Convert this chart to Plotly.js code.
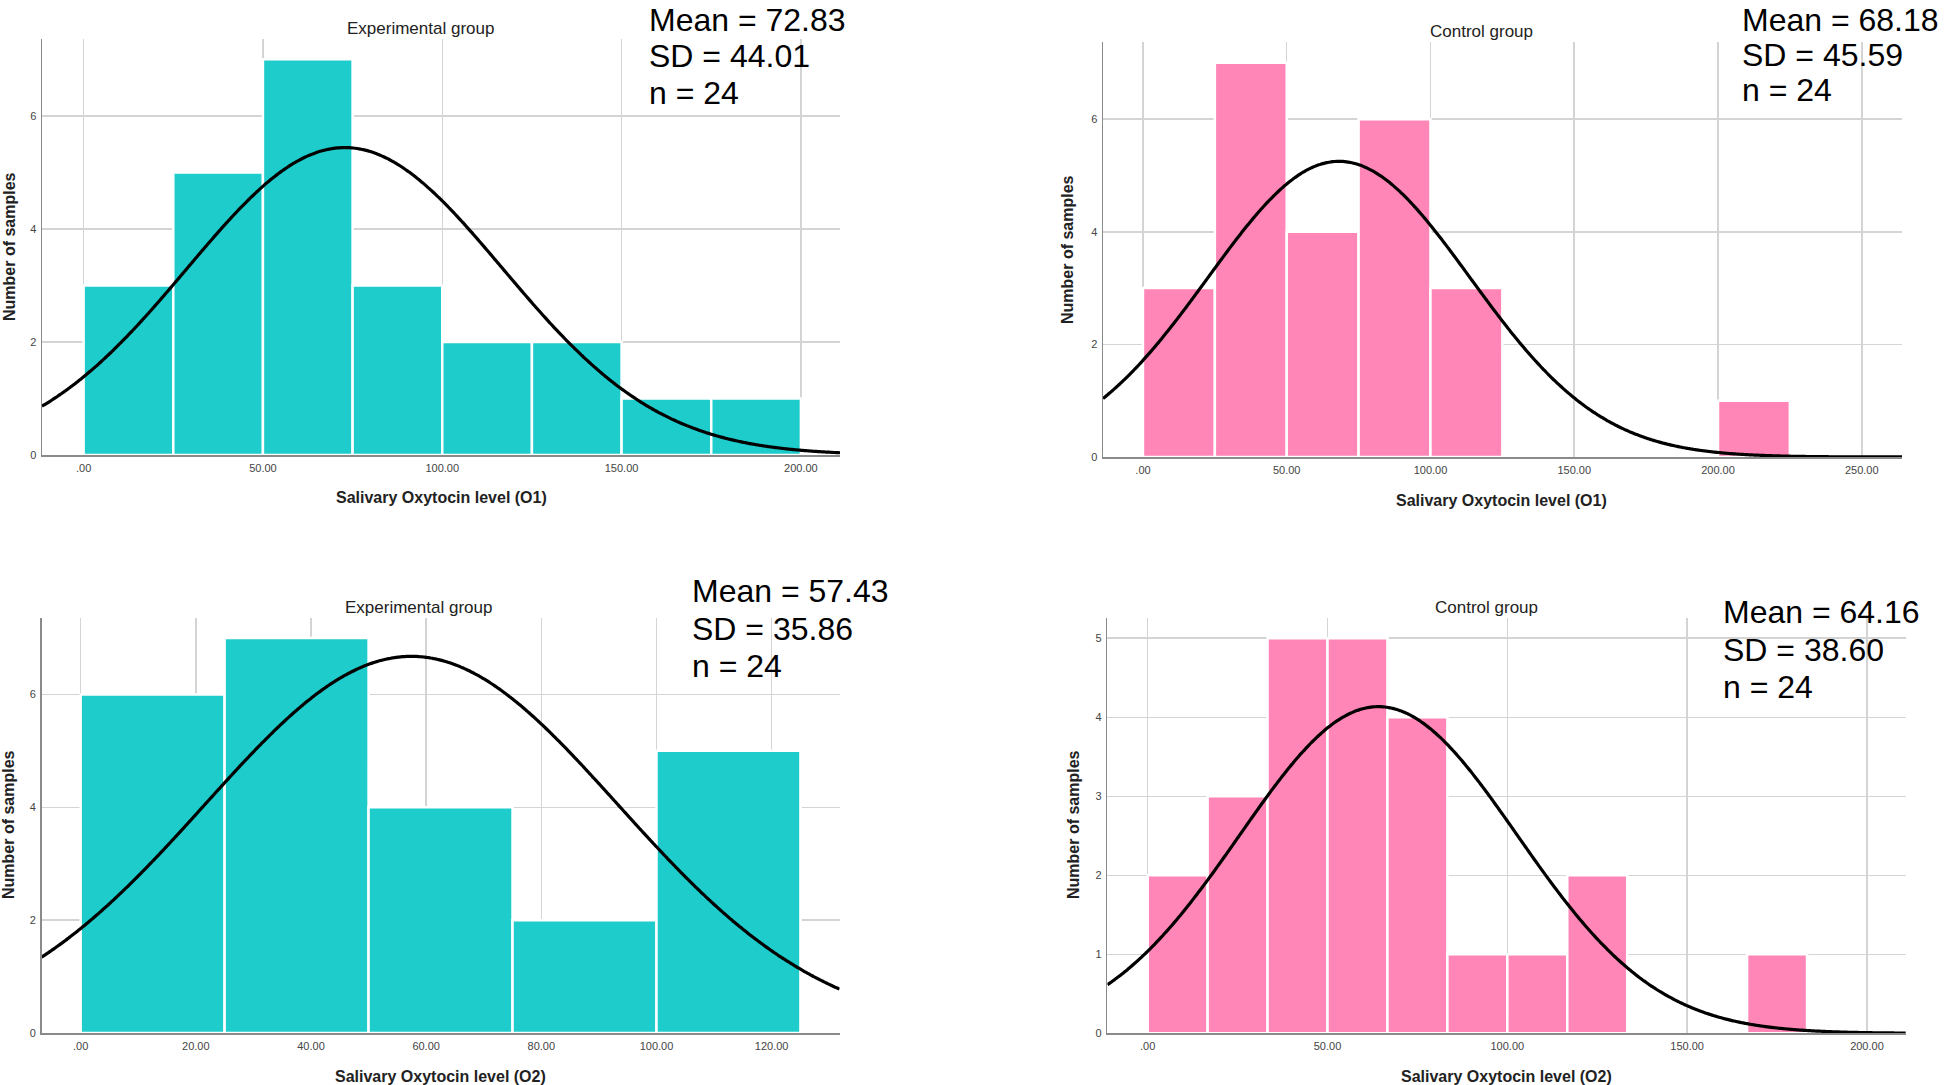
<!DOCTYPE html>
<html>
<head>
<meta charset="utf-8">
<script src="https://cdn.plot.ly/plotly-3.0.1.min.js"></script>
<style>
  html, body { margin: 0; padding: 0; background: #fff; }
  #chart { width: 1946px; height: 1085px; }
</style>
</head>
<body>
<div id="chart"></div>
<script>
// Histogram data (bin lower edges + counts)
const expO1Edges = [0, 25, 50, 75, 100, 125, 150, 175];
const expO1Counts = [3, 5, 7, 3, 2, 2, 1, 1];
const expO1Width = 25;

const ctrlO1Edges = [0, 25, 50, 75, 100, 200];
const ctrlO1Counts = [3, 7, 4, 6, 3, 1];
const ctrlO1Width = 25;

const expO2Edges = [0, 25, 50, 75, 100];
const expO2Counts = [6, 7, 4, 2, 5];
const expO2Width = 25;

const ctrlO2Edges = [0, 16.667, 33.333, 50, 66.667, 83.333, 100, 116.667, 166.667];
const ctrlO2Counts = [2, 3, 5, 5, 4, 1, 1, 2, 1];
const ctrlO2Width = 16.667;

// Summary stats shown on each panel
const groupTitles = ['Experimental group', 'Control group', 'Experimental group', 'Control group'];
const axisTitles = ['Salivary Oxytocin level (O1)', 'Salivary Oxytocin level (O1)',
                    'Salivary Oxytocin level (O2)', 'Salivary Oxytocin level (O2)'];
const means = [72.83, 68.18, 57.43, 64.16];
const sds = [44.01, 45.59, 35.86, 38.60];
const ns = [24, 24, 24, 24];

// Tick labels
const xTicks1 = [0, 50, 100, 150, 200];
const xTickText1 = ['.00', '50.00', '100.00', '150.00', '200.00'];
const xTicks2 = [0, 50, 100, 150, 200, 250];
const xTickText2 = ['.00', '50.00', '100.00', '150.00', '200.00', '250.00'];
const xTicks3 = [0, 20, 40, 60, 80, 100, 120];
const xTickText3 = ['.00', '20.00', '40.00', '60.00', '80.00', '100.00', '120.00'];
const xTicks4 = [0, 50, 100, 150, 200];
const xTickText4 = ['.00', '50.00', '100.00', '150.00', '200.00'];
const yTicksA = [0, 2, 4, 6];
const yTicksB = [0, 1, 2, 3, 4, 5];

const TEAL = '#1ecccb';
const PINK = '#ff86b6';
const FONT = 'Liberation Sans, Arial, sans-serif';
const W = 1946, H = 1085;
const px = x => x / W;
const py = y => 1 - y / H;

// Panel geometry in pixels
const panels = [
  { edges: expO1Edges, counts: expO1Counts, bw: expO1Width, color: TEAL,
    left: 42, right: 840, top: 39, bottom: 455, xr: [-11.6, 210.9], yr: [0, 7.36],
    tv: xTicks1, tt: xTickText1, yt: yTicksA,
    title: [420, 29], xt: [441, 498], yti: [9, 247],
    stats: [647, 19.5, 36.5], box: [619, -5, 880, 118] },
  { edges: ctrlO1Edges, counts: ctrlO1Counts, bw: ctrlO1Width, color: PINK,
    left: 1103, right: 1902, top: 42, bottom: 457, xr: [-13.9, 264], yr: [0, 7.37],
    tv: xTicks2, tt: xTickText2, yt: yTicksA,
    title: [1481, 31], xt: [1501, 500], yti: [1067, 250],
    stats: [1740, 19.5, 35.5], box: [1730, -5, 1950, 114] },
  { edges: expO2Edges, counts: expO2Counts, bw: expO2Width, color: TEAL,
    left: 41.5, right: 839.6, top: 617.7, bottom: 1033, xr: [-6.8, 131.8], yr: [0, 7.36],
    tv: xTicks3, tt: xTickText3, yt: yTicksA,
    title: [418, 607], xt: [440, 1076], yti: [8, 825],
    stats: [689.5, 591, 37.5], box: [676, 560, 880, 692] },
  { edges: ctrlO2Edges, counts: ctrlO2Counts, bw: ctrlO2Width, color: PINK,
    left: 1107.4, right: 1905.8, top: 617.7, bottom: 1033.3, xr: [-11.2, 210.8], yr: [0, 5.26],
    tv: xTicks4, tt: xTickText4, yt: yTicksB,
    title: [1486.5, 607], xt: [1506.6, 1076], yti: [1073, 825],
    stats: [1721, 612, 37.5], box: [1691, 560, 1950, 714] }
];

const traces = [];
const layout = {
  width: W, height: H,
  margin: { l: 0, r: 0, t: 0, b: 0 },
  paper_bgcolor: '#fff', plot_bgcolor: '#fff',
  showlegend: false,
  font: { family: FONT, color: '#222' },
  annotations: [],
  shapes: []
};

panels.forEach((p, i) => {
  const k = i === 0 ? '' : String(i + 1);
  const xa = 'x' + k, ya = 'y' + k;

  // Histogram bars
  traces.push({
    type: 'bar',
    x: p.edges.map(e => e + p.bw / 2),
    y: p.counts,
    width: p.edges.map(() => p.bw),
    marker: { color: p.color, line: { color: '#fff', width: 2.5 } },
    xaxis: xa, yaxis: ya,
    hoverinfo: 'skip'
  });

  // Normal curve scaled to counts
  const xs = [], ys = [];
  const steps = 400;
  for (let s = 0; s <= steps; s++) {
    const x = p.xr[0] + (p.xr[1] - p.xr[0]) * s / steps;
    const z = (x - means[i]) / sds[i];
    xs.push(x);
    ys.push(ns[i] * p.bw * Math.exp(-0.5 * z * z) / (sds[i] * Math.sqrt(2 * Math.PI)));
  }
  traces.push({
    type: 'scatter', mode: 'lines',
    x: xs, y: ys,
    line: { color: '#000', width: 3.2, shape: 'spline' },
    xaxis: xa, yaxis: ya,
    hoverinfo: 'skip', cliponaxis: true
  });

  layout['xaxis' + k] = {
    domain: [px(p.left), px(p.right)],
    range: p.xr, anchor: ya,
    tickvals: p.tv, ticktext: p.tt,
    tickfont: { size: 11, color: '#444', family: FONT },
    ticks: '', ticklabelstandoff: 2,
    showgrid: true, gridcolor: '#d4d4d4', gridwidth: 1.5,
    showline: true, linecolor: '#8a8a8a', linewidth: 1.5,
    zeroline: false, fixedrange: true
  };
  layout['yaxis' + k] = {
    domain: [py(p.bottom), py(p.top)],
    range: p.yr, anchor: xa,
    tickvals: p.yt,
    tickfont: { size: 11, color: '#444', family: FONT },
    ticks: '', ticklabelstandoff: 2,
    showgrid: true, gridcolor: '#d4d4d4', gridwidth: 1.5,
    showline: true, linecolor: '#8a8a8a', linewidth: 1.5,
    zeroline: false, fixedrange: true
  };

  // White box behind the stats block
  layout.shapes.push({
    type: 'rect', xref: 'paper', yref: 'paper', layer: 'between',
    x0: px(p.box[0]), x1: px(p.box[2]), y0: py(p.box[3]), y1: py(p.box[1]),
    fillcolor: '#fff', line: { width: 0 }
  });

  // Panel title
  layout.annotations.push({
    xref: 'paper', yref: 'paper', x: px(p.title[0]), y: py(p.title[1]),
    xanchor: 'center', yanchor: 'middle', showarrow: false,
    text: groupTitles[i], font: { size: 17, color: '#222', family: FONT }
  });
  // X axis title
  layout.annotations.push({
    xref: 'paper', yref: 'paper', x: px(p.xt[0]), y: py(p.xt[1]),
    xanchor: 'center', yanchor: 'middle', showarrow: false,
    text: '<b>' + axisTitles[i] + '</b>', font: { size: 16, color: '#222', family: FONT }
  });
  // Y axis title
  layout.annotations.push({
    xref: 'paper', yref: 'paper', x: px(p.yti[0]), y: py(p.yti[1]),
    xanchor: 'center', yanchor: 'middle', showarrow: false, textangle: -90,
    text: '<b>Number of samples</b>', font: { size: 16, color: '#222', family: FONT }
  });
  // Stats lines
  const lines = ['Mean = ' + means[i].toFixed(2), 'SD = ' + sds[i].toFixed(2), 'n = ' + ns[i]];
  lines.forEach((t, j) => {
    layout.annotations.push({
      xref: 'paper', yref: 'paper',
      x: px(p.stats[0]), y: py(p.stats[1] + j * p.stats[2]),
      xanchor: 'left', yanchor: 'middle', showarrow: false,
      text: t, font: { size: 32, color: '#000', family: FONT }
    });
  });
});

Plotly.newPlot('chart', traces, layout, { displayModeBar: false, staticPlot: true });
</script>
</body>
</html>
